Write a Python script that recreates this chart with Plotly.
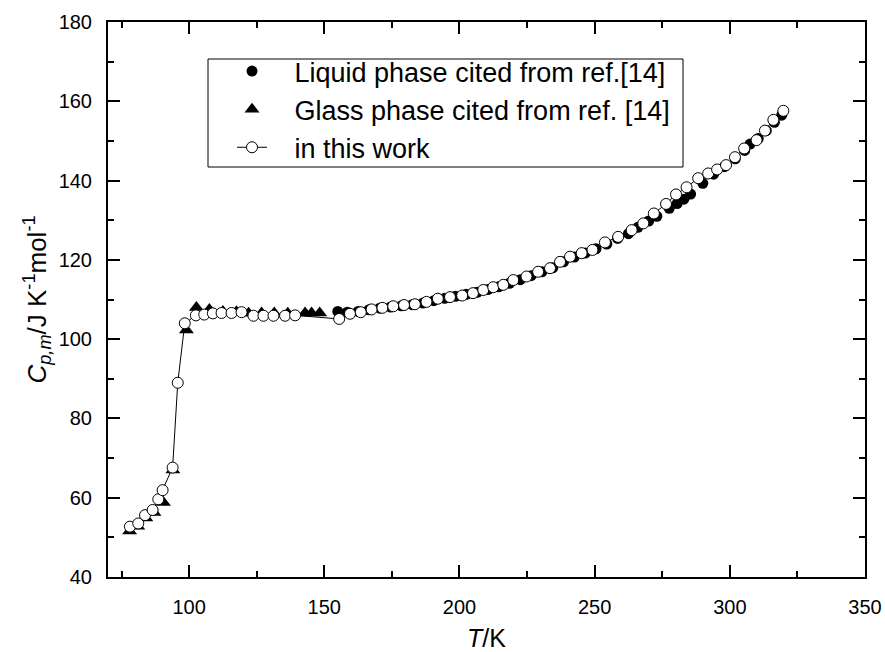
import plotly.graph_objects as go

# This work (open circles)
work_T = [78.1, 81.2, 83.7, 86.5, 88.6, 90.2, 93.9, 95.8, 98.4, 102.5, 105.6, 108.8, 112.0, 115.7,
          119.4, 123.8, 127.5, 131.2, 135.5, 139.2, 155.5, 159.5, 163.5, 167.5, 171.5, 175.5, 179.5,
          183.5, 187.8, 192.0, 196.5, 201.0, 205.0, 208.8, 212.5, 216.2, 219.9, 224.8, 229.1, 233.5,
          237.2, 240.9, 245.2, 249.2, 253.8, 258.7, 263.7, 268.0, 271.9, 276.4, 280.1, 284.0, 288.3,
          292.0, 295.3, 298.6, 301.9, 305.3, 309.9, 313.0, 316.1, 319.8]
work_C = [52.7, 53.5, 55.6, 56.9, 59.6, 61.9, 67.6, 89.0, 104.0, 106.0, 106.2, 106.5, 106.6, 106.6,
          106.8, 105.9, 105.9, 105.9, 105.9, 106.0, 105.1, 106.4, 106.8, 107.5, 107.9, 108.3, 108.6,
          108.8, 109.4, 110.2, 110.6, 111.0, 111.6, 112.4, 113.1, 113.7, 114.9, 115.8, 117.0, 117.9,
          119.5, 120.8, 121.7, 122.5, 124.4, 125.8, 127.5, 129.2, 131.7, 134.1, 136.5, 138.3, 140.6,
          141.8, 142.8, 143.9, 145.9, 148.1, 150.2, 152.6, 155.3, 157.6]

# Glass phase from ref. [14] (filled triangles)
glass_T = [78.0, 81.0, 84.0, 87.0, 90.5, 94.0, 99.0, 102.7, 107.5, 112.5, 117.5, 122.0, 126.8,
           131.5, 136.5, 142.9, 145.3, 148.3]
glass_C = [51.6, 52.8, 54.9, 56.3, 58.8, 67.0, 102.3, 108.0, 107.5, 107.0, 106.9, 106.5, 106.6,
           106.6, 106.5, 106.6, 106.6, 106.6]

# Liquid phase from ref. [14] (filled circles)
liquid_T = [155.0, 158.5, 162.5, 166.5, 170.5, 174.5, 178.5, 182.5, 186.5, 190.5, 194.5, 198.5,
            202.5, 206.5, 210.5, 214.5, 218.5, 222.5, 226.5, 230.5, 234.5, 238.5, 242.5, 246.5,
            250.5, 254.5, 258.5, 262.5, 266.0, 270.0, 273.0, 277.6, 280.5, 283.0, 285.5, 290.0,
            294.0, 298.0, 302.0, 305.5, 307.5, 310.5, 313.5, 316.5, 319.2]
liquid_C = [107.0, 106.8, 107.0, 107.4, 107.8, 108.1, 108.4, 108.7, 109.1, 109.7, 110.3, 110.8,
            111.3, 111.8, 112.5, 113.2, 114.1, 115.0, 116.0, 117.0, 118.0, 119.5, 120.7, 121.7,
            122.8, 124.0, 125.4, 126.6, 128.2, 129.8, 131.0, 133.0, 134.2, 135.3, 136.6, 139.3,
            141.6, 143.5, 145.5, 147.6, 149.2, 150.6, 152.6, 154.7, 156.5]

x_ticks = [100, 150, 200, 250, 300, 350]
y_ticks = [40, 60, 80, 100, 120, 140, 160, 180]

FONT = "Liberation Sans, Arial, sans-serif"
PAD = "\u00a0\u00a0\u00a0"

fig = go.Figure()
fig.add_trace(go.Scatter(
    x=liquid_T, y=liquid_C, mode="markers", name=PAD + "Liquid phase cited from ref.[14]",
    marker=dict(symbol="circle", size=11, color="black", line=dict(width=0)),
))
fig.add_trace(go.Scatter(
    x=glass_T, y=glass_C, mode="markers", name=PAD + "Glass phase cited from ref. [14]",
    marker=dict(symbol="triangle-up", size=13, color="black", line=dict(width=0)),
))
fig.add_trace(go.Scatter(
    x=work_T, y=work_C, mode="lines+markers", name=PAD + "in this work",
    line=dict(color="black", width=1),
    marker=dict(symbol="circle", size=11, color="white", line=dict(color="black", width=1)),
))

axis_common = dict(
    showline=True, linecolor="black", linewidth=2, mirror="allticks",
    ticks="inside", ticklen=12, tickwidth=2, tickcolor="black",
    showgrid=False, zeroline=False, automargin=False,
    tickfont=dict(family=FONT, size=20, color="black"),
)

fig.update_xaxes(
    range=[70, 350], tickvals=x_ticks, ticktext=[str(v) for v in x_ticks],
    minor=dict(ticks="inside", ticklen=6, tickwidth=2, tickcolor="black", dtick=25, tick0=0),
    title=dict(text="<i>T</i>/K", font=dict(family=FONT, size=25, color="black"), standoff=18),
    ticklabelstandoff=11,
    **axis_common,
)
fig.update_yaxes(
    range=[40, 180], tickvals=y_ticks, ticktext=[str(v) for v in y_ticks],
    minor=dict(ticks="inside", ticklen=6, tickwidth=2, tickcolor="black", dtick=10, tick0=0),
    title=dict(text="<i>C</i><sub><i>p,m</i></sub>/J K<sup>-1</sup>mol<sup>-1</sup>",
               font=dict(family=FONT, size=26, color="black"), standoff=5),
    ticklabelstandoff=10,
    **axis_common,
)

# legend frame
fig.add_shape(
    type="rect", xref="paper", yref="paper",
    x0=(208 - 108) / 757, x1=(683 - 108) / 757,
    y0=(577 - 167) / 555, y1=(577 - 59) / 555,
    line=dict(color="black", width=1), fillcolor="white", layer="above",
)

fig.update_layout(
    width=885, height=652,
    margin=dict(l=108, r=20, t=22, b=75),
    plot_bgcolor="white", paper_bgcolor="white",
    font=dict(family=FONT, color="black"),
    showlegend=True,
    legend=dict(
        x=(232 - 108) / 757, y=(577 - 47) / 555, xanchor="left", yanchor="top",
        bgcolor="rgba(0,0,0,0)", borderwidth=0,
        font=dict(family=FONT, size=27, color="black"),
        itemwidth=30, tracegroupgap=0,
    ),
)

fig.write_html("out.html")
